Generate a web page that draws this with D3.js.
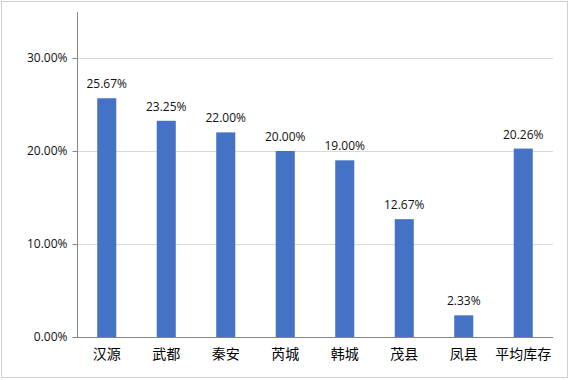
<!DOCTYPE html>
<html><head><meta charset="utf-8">
<script src="https://cdn.jsdelivr.net/npm/d3@7/dist/d3.min.js"></script>
<style>body{margin:0;background:#fff}svg{display:block}</style>
</head><body>
<svg id="c" width="569" height="380"></svg>
<script>
const categories = ["汉源","武都","秦安","芮城","韩城","茂县","凤县","平均库存"];
const values = [0.2567,0.2325,0.22,0.20,0.19,0.1267,0.0233,0.2026];
const yTicks = [0,0.1,0.2,0.3];

const svg = d3.select("#c");
svg.append("rect").attr("x",1.5).attr("y",1.5).attr("width",566).attr("height",376)
  .attr("fill","#fff").attr("stroke","#d0d0d0");

const pLeft=77, pRight=553, pTop=12, pBottom=337;
const x = d3.scaleBand().domain(categories).range([pLeft,pRight]).paddingInner(0.68).paddingOuter(0.34);
const y = d3.scaleLinear().domain([0,0.3]).range([pBottom,58]);

// gridlines
svg.append("g").selectAll("line").data(yTicks.filter(d=>d>0)).join("line")
  .attr("x1",pLeft).attr("x2",pRight).attr("y1",d=>Math.round(y(d))+0.5).attr("y2",d=>Math.round(y(d))+0.5)
  .attr("stroke","#d9d9d9");

// bars
svg.append("g").selectAll("rect").data(values).join("rect")
  .attr("x",(d,i)=>x(categories[i])).attr("width",x.bandwidth())
  .attr("y",d=>y(d)).attr("height",d=>pBottom-y(d)).attr("fill","#4472C4");

// value labels
svg.append("g").selectAll("text").data(values).join("text")
  .attr("x",(d,i)=>x(categories[i])+x.bandwidth()/2).attr("y",d=>y(d)-10)
  .attr("text-anchor","middle").attr("font-family","Open Sans, Liberation Sans, sans-serif")
  .attr("font-size",12).attr("fill","#111").text(d=>(d*100).toFixed(2)+"%");

// y axis
const ya = d3.axisLeft(y).tickValues(yTicks).tickSize(5).tickPadding(5).tickFormat(d=>(d*100).toFixed(2)+"%");
const gy = svg.append("g").attr("transform",`translate(${pLeft+0.5},0)`).call(ya);
gy.select(".domain").remove();
gy.selectAll(".tick line").attr("stroke","#868686");
gy.selectAll(".tick text").attr("font-family","Open Sans, Liberation Sans, sans-serif").attr("font-size",12).attr("fill","#111");
svg.append("line").attr("x1",pLeft+0.5).attr("x2",pLeft+0.5).attr("y1",pTop).attr("y2",pBottom).attr("stroke","#868686");

// x axis
svg.append("line").attr("x1",pLeft).attr("x2",pRight).attr("y1",pBottom+0.5).attr("y2",pBottom+0.5).attr("stroke","#868686");
const xa = d3.axisBottom(x).tickSize(0).tickPadding(12);
const gx = svg.append("g").attr("transform",`translate(0,${pBottom})`).call(xa);
gx.select(".domain").remove();
gx.selectAll(".tick text").attr("font-family","Noto Sans CJK SC, sans-serif").attr("font-size",14).attr("fill","#000");
</script>
</body></html>
